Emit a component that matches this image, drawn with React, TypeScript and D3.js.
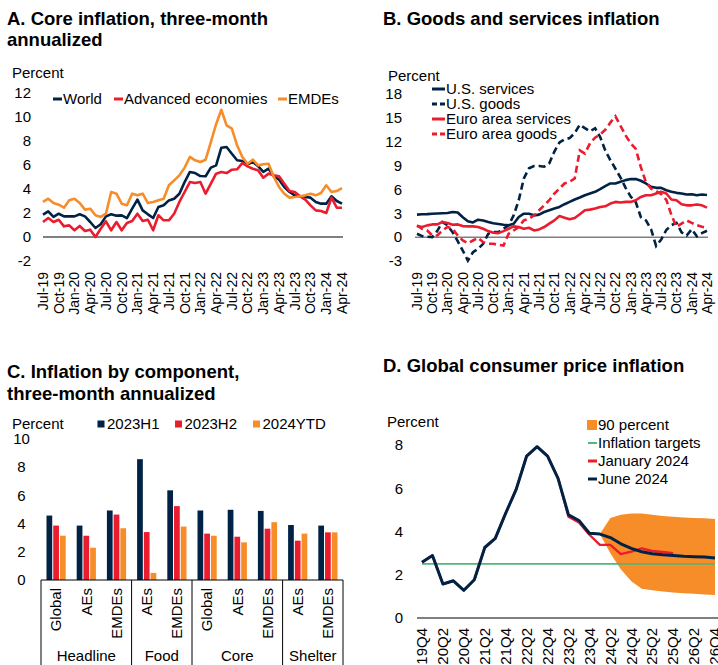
import React from 'react';
import * as d3 from 'd3';

const NAVY = '#002345';
const RED = '#eb1c2d';
const ORANGE = '#f78d28';
const GREEN = '#4cb87a';
const FONT = '"Liberation Sans", Arial, Helvetica, sans-serif';
const TITLE_FS = 18.5;

// ---------- Panel A: core inflation (monthly, Jul-19 .. Apr-24) ----------
const monthTickLabels = ['Jul-19','Oct-19','Jan-20','Apr-20','Jul-20','Oct-20','Jan-21','Apr-21','Jul-21','Oct-21','Jan-22','Apr-22','Jul-22','Oct-22','Jan-23','Apr-23','Jul-23','Oct-23','Jan-24','Apr-24'];
const worldCore = [1.86,2.14,1.67,1.94,1.72,1.72,1.72,1.89,1.72,1.25, 0.75,1.06,1.72,1.89,1.78,1.8,1.58,2.36,3.11,2.22, 1.89,1.58,2.5,2.64,3.05,3.19,3.6,4.58,5.42,5.33, 5.08,5.06,5.78,5.97,7.44,7.5,6.94,6.4,6.33,6.05, 6.25,5.9,5.42,5.69,5.06,4.78,4.17,3.75,3.47,3.39, 3.33,3.28,2.92,2.78,2.78,3.39,3.0,2.78];
const advancedCore = [1.25,1.58,1.25,1.44,0.89,0.97,0.56,0.92,0.5,0.61, 0.0,0.69,1.31,0.56,1.25,0.56,1.17,1.33,1.94,1.33, 1.44,0.56,1.81,1.39,1.39,1.94,2.92,3.75,4.58,4.5, 4.58,3.61,4.44,5.28,5.42,5.33,5.61,5.64,6.17,5.89, 5.69,5.56,4.94,5.28,5.14,5.06,4.44,3.83,3.75,3.39, 3.11,2.64,2.22,2.17,2.0,3.28,2.44,2.44];
const emdeCore = [2.92,3.19,2.83,2.69,2.44,3.06,3.19,2.83,2.28,2.36, 1.81,1.67,1.94,3.75,3.61,2.78,2.64,3.61,3.47,3.61, 2.83,2.92,3.06,3.19,4.31,4.72,5.14,5.78,6.67,6.39, 6.25,6.44,7.9,9.4,10.6,9.3,9.03,7.64,6.67,6.11, 6.44,5.97,6.06,6.11,5.0,4.17,3.61,3.28,3.33,3.39, 3.47,3.61,3.47,3.67,4.31,3.75,3.83,4.08];
const ticksA = [-2,0,2,4,6,8,10,12];

// ---------- Panel B: goods and services inflation ----------
const usServices = [2.83,2.87,2.9,2.95,2.97,3.0,3.04,3.16,3.1,2.5, 2.0,1.85,2.19,2.1,1.9,1.75,1.65,1.55,1.5,1.69, 2.53,2.95,2.95,2.74,2.83,3.16,3.38,3.59,3.8,4.14, 4.43,4.73,4.98,5.27,5.49,5.7,6.03,6.41,6.75,6.75, 6.96,7.17,7.3,7.3,7.09,6.75,6.33,6.2,6.2,5.9, 5.7,5.57,5.49,5.36,5.4,5.27,5.36,5.3];
const usGoods = [0.42,0.13,0.05,0.0,0.8,1.9,1.5,0.6,-0.5,-1.69, -2.95,-1.9,-1.48,-0.84,0.42,0.63,0.63,1.05,1.48,2.74, 4.64,7.38,8.65,8.95,8.95,8.86,9.28,10.76,11.9,12.3, 12.45,13.08,14.14,13.7,13.3,13.7,12.6,10.9,9.7,8.6, 7.5,6.2,5.1,4.4,2.5,2.1,1.0,-1.1,-0.3,0.9, 1.5,1.8,0.6,0.2,1.0,0.1,0.5,0.8];
const euroServices = [1.39,1.27,1.48,1.6,1.6,1.9,1.77,1.56,1.6,1.39, 1.35,1.35,1.27,1.05,0.76,0.55,0.5,0.76,1.05,1.35, 1.27,1.05,1.18,0.84,0.97,1.27,1.69,2.11,2.66,2.45, 2.24,2.4,2.87,3.38,3.46,3.59,3.8,3.88,4.22,4.43, 4.35,4.43,4.43,4.64,5.06,5.27,5.27,5.49,5.7,5.49, 4.73,4.64,4.14,4.0,4.0,4.1,4.0,3.71];
const euroGoods = [1.48,1.05,0.84,0.21,0.21,0.84,1.27,1.05,0.21,-0.42, -0.76,-0.42,-0.08,-0.63,-0.84,-0.84,-0.97,-1.05,0.42,0.84, 1.27,2.11,2.32,2.74,3.38,4.0,4.64,5.49,6.12,6.75, 6.96,7.38,10.9,10.5,11.8,12.5,12.9,13.5,14.4,15.2, 14.0,12.8,11.8,11.1,8.8,6.9,6.1,5.8,5.4,4.7, 2.8,1.3,1.7,2.1,1.8,1.5,1.3,1.2];
const ticksB = [-3,0,3,6,9,12,15,18];

// ---------- Panel C: inflation by component ----------
const componentLabels = ['Global','AEs','EMDEs','AEs','EMDEs','Global','AEs','EMDEs','AEs','EMDEs'];
const componentGroups = ['Headline','Headline','Headline','Food','Food','Core','Core','Core','Shelter','Shelter'];
const h1_2023 = [4.57,3.86,4.93,8.57,6.36,4.93,4.98,4.9,3.9,3.86];
const h2_2023 = [3.86,3.14,4.64,3.4,5.24,3.29,3.07,3.64,2.79,3.38];
const ytd_2024 = [3.14,2.29,3.67,0.5,3.79,3.14,2.67,4.1,3.29,3.38];
const barSeriesNames = ['2023H1','2023H2','2024YTD'];
const ticksC = [0,2,4,6,8,10];

// ---------- Panel D: global consumer price inflation ----------
const quarters = ['19Q4','20Q1','20Q2','20Q3','20Q4','21Q1','21Q2','21Q3','21Q4','22Q1','22Q2','22Q3','22Q4','23Q1','23Q2','23Q3','23Q4','24Q1','24Q2','24Q3','24Q4','25Q1','25Q2','25Q3','25Q4','26Q1','26Q2','26Q3','26Q4'];
const june2024 = [2.58,2.89,1.57,1.72,1.28,1.77,3.26,3.68,4.85,5.95,7.49,7.92,7.49,6.46,4.77,4.51,3.92,3.88,3.72,3.43,3.22,3.06,2.97,2.92,2.89,2.85,2.83,2.82,2.77];
const january2024 = [2.58,2.89,1.57,1.72,1.28,1.77,3.26,3.68,4.85,5.95,7.49,7.92,7.49,6.46,4.69,4.42,3.85,3.38,3.38,2.95,3.07,3.22,3.1,3.05,3.0];
const fanStartIndex = 17;
const fanUpper = [3.88,4.62,4.77,4.83,4.83,4.77,4.72,4.68,4.65,4.63,4.61,4.58];
const fanLower = [3.88,3.0,2.25,1.7,1.35,1.28,1.23,1.18,1.15,1.12,1.09,1.06];
const inflationTarget = 2.5;
const ticksD = [0,2,4,6,8];

const FS = 15;

function RotLabel({ x, y, text, size = 14 }: { x: number; y: number; text: string; size?: number }) {
  return (
    <text transform={`translate(${x},${y}) rotate(-90)`} textAnchor="end" dy="0.35em" fontSize={size} fill="#000">
      {text}
    </text>
  );
}

function PanelA() {
  const x = d3.scaleLinear().domain([0, 57]).range([43, 342]);
  const y = d3.scaleLinear().domain([-2, 12]).range([261, 93]);
  const line = d3.line<number>().x((_, i) => x(i)).y((d) => y(d));
  return (
    <g>
      <text x={7} y={25} fontSize={TITLE_FS} fontWeight="bold">A. Core inflation, three-month</text>
      <text x={7} y={46} fontSize={TITLE_FS} fontWeight="bold">annualized</text>
      <text x={12} y={73} dy="0.35em" fontSize={FS}>Percent</text>
      {ticksA.map((t) => (
        <text key={t} x={31} y={y(t)} dy="0.35em" textAnchor="end" fontSize={FS}>{t}</text>
      ))}
      <line x1={43} x2={343} y1={y(0)} y2={y(0)} stroke="#000" strokeWidth={1} />
      <path d={line(worldCore) || ''} fill="none" stroke={NAVY} strokeWidth={2.6} strokeLinejoin="round" />
      <path d={line(advancedCore) || ''} fill="none" stroke={RED} strokeWidth={2.6} strokeLinejoin="round" />
      <path d={line(emdeCore) || ''} fill="none" stroke={ORANGE} strokeWidth={2.6} strokeLinejoin="round" />
      {monthTickLabels.map((l, j) => (
        <RotLabel key={l} x={x(j * 3)} y={272} text={l} />
      ))}
      <line x1={53} x2={62} y1={99} y2={99} stroke={NAVY} strokeWidth={3} />
      <text x={63} y={99} dy="0.35em" fontSize={FS}>World</text>
      <line x1={114} x2={123} y1={99} y2={99} stroke={RED} strokeWidth={3} />
      <text x={124} y={99} dy="0.35em" fontSize={FS}>Advanced economies</text>
      <line x1={278} x2={287} y1={99} y2={99} stroke={ORANGE} strokeWidth={3} />
      <text x={288} y={99} dy="0.35em" fontSize={FS}>EMDEs</text>
    </g>
  );
}

function PanelB() {
  const x = d3.scaleLinear().domain([0, 57]).range([417, 707]);
  const y = d3.scaleLinear().domain([-3, 18]).range([261, 94]);
  const line = d3.line<number>().x((_, i) => x(i)).y((d) => y(d));
  const legend = [
    { name: 'U.S. services', color: NAVY, dash: undefined as string | undefined },
    { name: 'U.S. goods', color: NAVY, dash: '5,3' },
    { name: 'Euro area services', color: RED, dash: undefined },
    { name: 'Euro area goods', color: RED, dash: '5,3' },
  ];
  const ly = [89, 104, 119, 134];
  return (
    <g>
      <text x={383} y={25} fontSize={TITLE_FS} fontWeight="bold">B. Goods and services inflation</text>
      <text x={388} y={76} dy="0.35em" fontSize={FS}>Percent</text>
      {ticksB.map((t) => (
        <text key={t} x={402} y={y(t)} dy="0.35em" textAnchor="end" fontSize={FS}>{t}</text>
      ))}
      <line x1={415} x2={708} y1={y(0)} y2={y(0)} stroke="#7f7f7f" strokeWidth={1.5} />
      <path d={line(usServices) || ''} fill="none" stroke={NAVY} strokeWidth={2.6} strokeLinejoin="round" />
      <path d={line(usGoods) || ''} fill="none" stroke={NAVY} strokeWidth={2.6} strokeDasharray="7,4" />
      <path d={line(euroServices) || ''} fill="none" stroke={RED} strokeWidth={2.6} strokeLinejoin="round" />
      <path d={line(euroGoods) || ''} fill="none" stroke={RED} strokeWidth={2.6} strokeDasharray="7,4" />
      {monthTickLabels.map((l, j) => (
        <RotLabel key={l} x={x(j * 3)} y={272} text={l} />
      ))}
      {legend.map((d, i) => (
        <g key={d.name}>
          <line x1={432} x2={445} y1={ly[i]} y2={ly[i]} stroke={d.color} strokeWidth={3} strokeDasharray={d.dash} />
          <text x={446} y={ly[i]} dy="0.35em" fontSize={FS}>{d.name}</text>
        </g>
      ))}
    </g>
  );
}

function PanelC() {
  const x = d3.scaleBand<number>().domain(d3.range(componentLabels.length)).range([41, 343]);
  const inner = d3.scaleBand<number>().domain([0, 1, 2]).range([-9.6, 9.6]).paddingInner(0.15);
  const y = d3.scaleLinear().domain([0, 10]).range([580, 439]);
  const series = [h1_2023, h2_2023, ytd_2024];
  const colors = [NAVY, RED, ORANGE];
  const step = x.step();
  const groups: { name: string; start: number; end: number }[] = [];
  componentGroups.forEach((g, i) => {
    const last = groups[groups.length - 1];
    if (last && last.name === g) last.end = i;
    else groups.push({ name: g, start: i, end: i });
  });
  const bounds = [x(0)!, ...groups.map((g) => x(g.end)! + step)];
  const legendX = [97.5, 175, 253];
  return (
    <g>
      <text x={7} y={378} fontSize={TITLE_FS} fontWeight="bold">C. Inflation by component,</text>
      <text x={7} y={400} fontSize={TITLE_FS} fontWeight="bold">three-month annualized</text>
      <text x={12} y={424} dy="0.35em" fontSize={FS}>Percent</text>
      {barSeriesNames.map((n, i) => (
        <g key={n}>
          <rect x={legendX[i]} y={420.5} width={7} height={7} fill={colors[i]} />
          <text x={legendX[i] + 9.5} y={424} dy="0.35em" fontSize={FS}>{n}</text>
        </g>
      ))}
      {ticksC.map((t) => (
        <text key={t} x={21.5} y={y(t)} dy="0.35em" textAnchor="middle" fontSize={FS}>{t}</text>
      ))}
      {series.map((vals, s) =>
        vals.map((v, i) => (
          <rect key={`${s}-${i}`} x={x(i)! + step / 2 + inner(s)!} y={y(v)} width={inner.bandwidth()} height={y(0) - y(v)} fill={colors[s]} />
        ))
      )}
      <line x1={41} x2={343} y1={y(0)} y2={y(0)} stroke="#000" strokeWidth={1} />
      {bounds.map((b, i) => (
        <line key={i} x1={b} x2={b} y1={y(0)} y2={665} stroke="#000" strokeWidth={1} />
      ))}
      {componentLabels.map((l, i) => (
        <RotLabel key={i} x={x(i)! + step / 2} y={588} text={l} size={15} />
      ))}
      {groups.map((g) => (
        <text key={g.name} x={(x(g.start)! + x(g.end)! + step) / 2} y={661} textAnchor="middle" fontSize={FS}>{g.name}</text>
      ))}
    </g>
  );
}

function PanelD() {
  const x = d3.scaleLinear().domain([0, quarters.length - 1]).range([422, 715]);
  const y = d3.scaleLinear().domain([0, 8]).range([618, 445]);
  const line = d3.line<number>().x((_, i) => x(i)).y((d) => y(d));
  const area = d3.area<number>().x((_, i) => x(fanStartIndex + i)).y0((_, i) => y(fanLower[i])).y1((d) => y(d));
  return (
    <g>
      <text x={383} y={372} fontSize={TITLE_FS} fontWeight="bold">D. Global consumer price inflation</text>
      <text x={387} y={422} dy="0.35em" fontSize={FS}>Percent</text>
      {ticksD.map((t) => (
        <text key={t} x={403} y={y(t)} dy="0.35em" textAnchor="end" fontSize={FS}>{t}</text>
      ))}
      <path d={area(fanUpper) || ''} fill={ORANGE} stroke="none" />
      <line x1={x(0)} x2={x(quarters.length - 1)} y1={y(inflationTarget)} y2={y(inflationTarget)} stroke={GREEN} strokeWidth={1.8} />
      <path d={line(january2024) || ''} fill="none" stroke={RED} strokeWidth={2.4} strokeLinejoin="round" />
      <path d={line(june2024) || ''} fill="none" stroke={NAVY} strokeWidth={3} strokeLinejoin="round" />
      <line x1={417} x2={718} y1={y(0)} y2={y(0)} stroke="#000" strokeWidth={1} />
      {quarters.map((q, i) => (i % 2 === 0 ? <RotLabel key={q} x={x(i)} y={628} text={q} size={15} /> : null))}
      <rect x={587} y={420} width={10} height={10} fill={ORANGE} />
      <text x={598} y={425} dy="0.35em" fontSize={FS}>90 percent</text>
      <line x1={588} x2={597} y1={443} y2={443} stroke={GREEN} strokeWidth={2} />
      <text x={598} y={443} dy="0.35em" fontSize={FS}>Inflation targets</text>
      <line x1={588} x2={597} y1={461} y2={461} stroke={RED} strokeWidth={3} />
      <text x={598} y={461} dy="0.35em" fontSize={FS}>January 2024</text>
      <line x1={588} x2={597} y1={479} y2={479} stroke={NAVY} strokeWidth={3} />
      <text x={598} y={479} dy="0.35em" fontSize={FS}>June 2024</text>
    </g>
  );
}

export default function App() {
  React.useEffect(() => {
    document.body.style.margin = '0';
  }, []);
  return (
    <svg
      width={718}
      height={665}
      style={{ position: 'absolute', left: 0, top: 0, display: 'block', fontFamily: FONT, background: '#fff' }}
    >
      <rect x={0} y={0} width={718} height={665} fill="#fff" />
      <PanelA />
      <PanelB />
      <PanelC />
      <PanelD />
    </svg>
  );
}
